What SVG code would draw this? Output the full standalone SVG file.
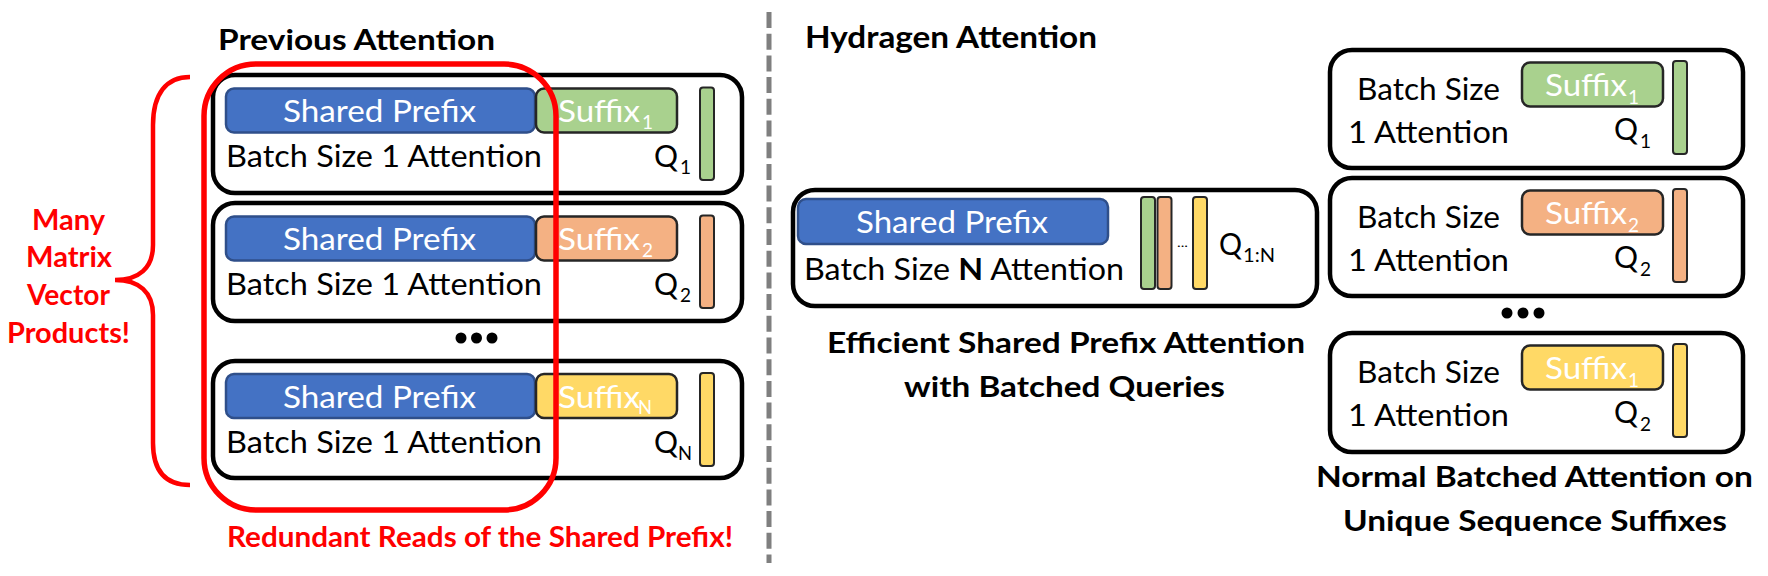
<svg xmlns="http://www.w3.org/2000/svg" width="1768" height="576" viewBox="0 0 1768 576">
<defs>
<style>
.bg{fill:#FFFFFF}
.box{fill:#FFFFFF;stroke:#000000;stroke-width:4.5}
.pre{fill:#4472C4;stroke:#2F4F8A;stroke-width:2.5}
.sg{fill:#A9D18E;stroke:#262626;stroke-width:2.5}
.so{fill:#F4B183;stroke:#262626;stroke-width:2.5}
.sy{fill:#FFD966;stroke:#262626;stroke-width:2.5}
.bar{stroke:#262626;stroke-width:2}
.t{font-family:Lato,"Liberation Sans",sans-serif;font-size:30px;fill:#000000}
.w{fill:#FFFFFF}
.sub{font-family:Lato,"Liberation Sans",sans-serif;font-size:19px}
.h{font-family:Lato,"Liberation Sans",sans-serif;font-weight:bold;font-size:28px;fill:#000000}
.red{fill:#FF0000}
.dot{fill:#000000}
</style>
</defs>
<rect class="bg" x="0" y="0" width="1768" height="576"/>

<!-- Titles -->
<g id="title-previous"><text class="h" x="218" y="50" textLength="277" lengthAdjust="spacingAndGlyphs">Previous Attention</text></g>
<g id="title-hydragen"><text class="h" x="805" y="48" font-size="30" style="font-size:30px" textLength="292" lengthAdjust="spacingAndGlyphs">Hydragen Attention</text></g>

<!-- Divider -->
<g id="connectors">
<line x1="769" y1="12" x2="769" y2="563" stroke="#7F7F7F" stroke-width="5" stroke-dasharray="16 5.7"/>
<path d="M190,77 C166,77 153,94 153,125 L153,245 C153,268 139,280 115,280 C139,280 153,292 153,315 L153,443 C153,472 166,485 190,485" fill="none" stroke="#FF0000" stroke-width="4.5"/>
</g>

<!-- Brace label -->
<g id="label-many">
<text class="h red" text-anchor="middle" x="68.5" y="230" textLength="73" lengthAdjust="spacingAndGlyphs">Many</text>
<text class="h red" text-anchor="middle" x="69" y="267" textLength="86" lengthAdjust="spacingAndGlyphs">Matrix</text>
<text class="h red" text-anchor="middle" x="68.5" y="305" textLength="83" lengthAdjust="spacingAndGlyphs">Vector</text>
<text class="h red" text-anchor="middle" x="68.5" y="343" textLength="123" lengthAdjust="spacingAndGlyphs">Products!</text>
</g>

<!-- Previous attention rows -->
<g id="prev-row-1">
<rect class="box" x="213" y="75" width="529" height="118" rx="22"/>
<rect class="pre" x="226" y="88.5" width="309" height="44" rx="8"/>
<rect class="sg" x="536" y="88.5" width="141" height="44" rx="8"/>
<text class="t w" x="283" y="122" textLength="193" lengthAdjust="spacingAndGlyphs">Shared Prefix</text>
<text class="t w" x="558" y="122" textLength="82" lengthAdjust="spacingAndGlyphs">Suffix</text>
<text class="sub w" x="642" y="128.5">1</text>
<text class="t" x="226" y="167" textLength="316" lengthAdjust="spacingAndGlyphs">Batch Size 1 Attention</text>
<text class="t" x="654" y="167" textLength="24" lengthAdjust="spacingAndGlyphs">Q</text>
<text class="sub" x="680" y="174">1</text>
<rect class="bar" fill="#A9D18E" x="700" y="87.5" width="14" height="92.5" rx="3"/>
</g>

<g id="prev-row-2" transform="translate(0,128)">
<rect class="box" x="213" y="75" width="529" height="118" rx="22"/>
<rect class="pre" x="226" y="88.5" width="309" height="44" rx="8"/>
<rect class="so" x="536" y="88.5" width="141" height="44" rx="8"/>
<text class="t w" x="283" y="122" textLength="193" lengthAdjust="spacingAndGlyphs">Shared Prefix</text>
<text class="t w" x="558" y="122" textLength="82" lengthAdjust="spacingAndGlyphs">Suffix</text>
<text class="sub w" x="642" y="128.5">2</text>
<text class="t" x="226" y="167" textLength="316" lengthAdjust="spacingAndGlyphs">Batch Size 1 Attention</text>
<text class="t" x="654" y="167" textLength="24" lengthAdjust="spacingAndGlyphs">Q</text>
<text class="sub" x="680" y="174">2</text>
<rect class="bar" fill="#F4B183" x="700" y="87.5" width="14" height="92.5" rx="3"/>
</g>

<g id="prev-dots">
<circle class="dot" cx="461" cy="338" r="5.5"/>
<circle class="dot" cx="476.5" cy="338" r="5.5"/>
<circle class="dot" cx="492" cy="338" r="5.5"/>
</g>

<g id="prev-row-n" transform="translate(0,286)">
<rect class="box" x="213" y="75" width="529" height="117" rx="22"/>
<rect class="pre" x="226" y="88" width="309" height="44" rx="8"/>
<rect class="sy" x="536" y="88" width="141" height="44" rx="8"/>
<text class="t w" x="283" y="121.5" textLength="193" lengthAdjust="spacingAndGlyphs">Shared Prefix</text>
<text class="t w" x="558" y="121.5" textLength="82" lengthAdjust="spacingAndGlyphs">Suffix</text>
<text class="sub w" x="638" y="128" textLength="14" lengthAdjust="spacingAndGlyphs">N</text>
<text class="t" x="226" y="166.5" textLength="316" lengthAdjust="spacingAndGlyphs">Batch Size 1 Attention</text>
<text class="t" x="654" y="166.5" textLength="24" lengthAdjust="spacingAndGlyphs">Q</text>
<text class="sub" x="678" y="173.5" textLength="14" lengthAdjust="spacingAndGlyphs">N</text>
<rect class="bar" fill="#FFD966" x="700" y="87" width="14" height="93" rx="3"/>
</g>

<!-- Red highlight -->
<g id="redundant-highlight">
<rect x="204" y="64" width="352" height="446" rx="52" fill="none" stroke="#FF0000" stroke-width="5.5"/>
<text class="h red" x="227" y="547" textLength="506" lengthAdjust="spacingAndGlyphs">Redundant Reads of the Shared Prefix!</text>
</g>

<!-- Hydragen shared prefix node -->
<g id="hydragen-prefix">
<rect class="box" x="793" y="190" width="524" height="116" rx="22"/>
<rect class="pre" x="798" y="199" width="310" height="45" rx="8"/>
<text class="t w" x="856" y="232.5" textLength="192" lengthAdjust="spacingAndGlyphs">Shared Prefix</text>
<text class="t" x="804" y="280" textLength="320" lengthAdjust="spacingAndGlyphs">Batch Size <tspan font-weight="bold">N</tspan> Attention</text>
<rect class="bar" fill="#A9D18E" x="1141" y="197" width="14" height="92" rx="3"/>
<rect class="bar" fill="#F4B183" x="1157.5" y="197" width="14" height="92" rx="3"/>
<text class="t" x="1177" y="247" style="font-size:12px" textLength="11" lengthAdjust="spacingAndGlyphs">...</text>
<rect class="bar" fill="#FFD966" x="1193" y="197" width="14" height="92" rx="3"/>
<text class="t" x="1219" y="255" textLength="23" lengthAdjust="spacingAndGlyphs">Q</text>
<text class="sub" x="1243" y="262" textLength="32" lengthAdjust="spacingAndGlyphs">1:N</text>
</g>
<g id="caption-hydragen">
<text class="h" x="827" y="353" textLength="478" lengthAdjust="spacingAndGlyphs">Efficient Shared Prefix Attention</text>
<text class="h" x="904" y="396.5" textLength="321" lengthAdjust="spacingAndGlyphs">with Batched Queries</text>
</g>

<!-- Right suffix nodes -->
<g id="suffix-row-1">
<rect class="box" x="1330" y="50" width="413" height="118" rx="22"/>
<rect class="sg" x="1522" y="62.5" width="141" height="44" rx="8"/>
<text class="t" x="1357" y="99.5" textLength="143" lengthAdjust="spacingAndGlyphs">Batch Size</text>
<text class="t" x="1348" y="143" textLength="161" lengthAdjust="spacingAndGlyphs">1 Attention</text>
<text class="t w" x="1545" y="96" textLength="82" lengthAdjust="spacingAndGlyphs">Suffix</text>
<text class="sub w" x="1628" y="103.5">1</text>
<text class="t" x="1614" y="139.5" textLength="24" lengthAdjust="spacingAndGlyphs">Q</text>
<text class="sub" x="1640" y="147.5">1</text>
<rect class="bar" fill="#A9D18E" x="1673" y="61" width="14" height="93" rx="3"/>
</g>

<g id="suffix-row-2" transform="translate(0,128)">
<rect class="box" x="1330" y="50" width="413" height="118" rx="22"/>
<rect class="so" x="1522" y="62.5" width="141" height="44" rx="8"/>
<text class="t" x="1357" y="99.5" textLength="143" lengthAdjust="spacingAndGlyphs">Batch Size</text>
<text class="t" x="1348" y="143" textLength="161" lengthAdjust="spacingAndGlyphs">1 Attention</text>
<text class="t w" x="1545" y="96" textLength="82" lengthAdjust="spacingAndGlyphs">Suffix</text>
<text class="sub w" x="1628" y="103.5">2</text>
<text class="t" x="1614" y="139.5" textLength="24" lengthAdjust="spacingAndGlyphs">Q</text>
<text class="sub" x="1640" y="147.5">2</text>
<rect class="bar" fill="#F4B183" x="1673" y="61" width="14" height="93" rx="3"/>
</g>

<g id="suffix-dots">
<circle class="dot" cx="1507" cy="313" r="5.5"/>
<circle class="dot" cx="1523" cy="313" r="5.5"/>
<circle class="dot" cx="1539" cy="313" r="5.5"/>
</g>

<g id="suffix-row-n" transform="translate(0,283)">
<rect class="box" x="1330" y="50" width="413" height="119" rx="22"/>
<rect class="sy" x="1522" y="62.5" width="141" height="44" rx="8"/>
<text class="t" x="1357" y="99.5" textLength="143" lengthAdjust="spacingAndGlyphs">Batch Size</text>
<text class="t" x="1348" y="143" textLength="161" lengthAdjust="spacingAndGlyphs">1 Attention</text>
<text class="t w" x="1545" y="96" textLength="82" lengthAdjust="spacingAndGlyphs">Suffix</text>
<text class="sub w" x="1628" y="103.5">1</text>
<text class="t" x="1614" y="139.5" textLength="24" lengthAdjust="spacingAndGlyphs">Q</text>
<text class="sub" x="1640" y="147.5">2</text>
<rect class="bar" fill="#FFD966" x="1673" y="61" width="14" height="93" rx="3"/>
</g>

<g id="caption-suffix">
<text class="h" x="1316" y="487" textLength="437" lengthAdjust="spacingAndGlyphs">Normal Batched Attention on</text>
<text class="h" x="1343" y="531" textLength="384" lengthAdjust="spacingAndGlyphs">Unique Sequence Suffixes</text>
</g>
</svg>
